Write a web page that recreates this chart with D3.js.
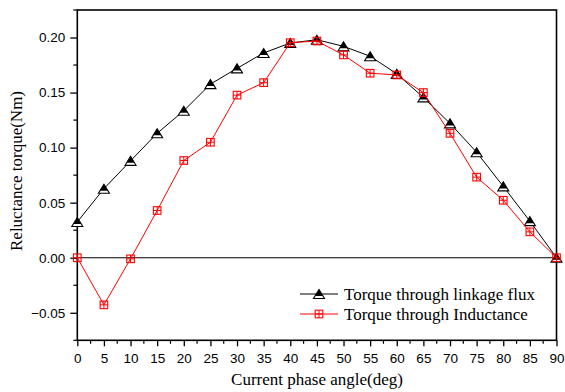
<!DOCTYPE html>
<html>
<head>
<meta charset="utf-8">
<script src="https://cdn.jsdelivr.net/npm/d3@7"></script>
<style>
  html, body { margin: 0; padding: 0; background: #fff; }
  svg { display: block; }
</style>
</head>
<body>
<svg id="chart" width="565" height="392"></svg>
<script>
// ---- Data ----
const angles = [0, 5, 10, 15, 20, 25, 30, 35, 40, 45, 50, 55, 60, 65, 70, 75, 80, 85, 90];
const torqueFlux = [0.0325, 0.0627, 0.088, 0.113, 0.1335, 0.1577, 0.172, 0.186, 0.195, 0.198, 0.192, 0.183, 0.167, 0.1456, 0.122, 0.0958, 0.0648, 0.0332, 0.0];
const torqueInductance = [0.0, -0.0428, -0.001, 0.0429, 0.0883, 0.1049, 0.1477, 0.159, 0.1953, 0.1968, 0.1842, 0.1676, 0.166, 0.150, 0.113, 0.0732, 0.0522, 0.0235, 0.0];
const xTicks = [0, 5, 10, 15, 20, 25, 30, 35, 40, 45, 50, 55, 60, 65, 70, 75, 80, 85, 90];
const yTicks = [-0.05, 0.00, 0.05, 0.10, 0.15, 0.20];
const seriesNames = ["Torque through linkage flux", "Torque through Inductance"];
const xTitle = "Current phase angle(deg)";
const yTitle = "Reluctance torque(Nm)";

// ---- Layout ----
const svg = d3.select("#chart");
const L = 77.3, R = 556.5, T = 10, B = 340.3;
const x = d3.scaleLinear().domain([0, 90]).range([L, R]);
const y = d3.scaleLinear().domain([-0.075, 0.225]).range([B, T]);
const serif = "Liberation Serif, Times New Roman, serif";
const sans = "Liberation Sans, Arial, sans-serif";

// frame
svg.append("rect").attr("x", L).attr("y", T).attr("width", R - L).attr("height", B - T)
  .attr("fill", "none").attr("stroke", "#000").attr("stroke-width", 1.6);

// zero line
svg.append("line").attr("x1", L).attr("x2", R).attr("y1", y(0)).attr("y2", y(0))
  .attr("stroke", "#000").attr("stroke-width", 1.2);

// axes
const xAxis = d3.axisBottom(x).tickValues(xTicks).tickSize(6).tickPadding(7).tickFormat(d3.format("d"));
const gx = svg.append("g").attr("transform", `translate(0,${B})`).call(xAxis);
const yAxis = d3.axisLeft(y).tickValues(yTicks).tickSize(7).tickPadding(5).tickFormat(d3.format(".2f"));
const gy = svg.append("g").attr("transform", `translate(${L},0)`).call(yAxis);
[gx, gy].forEach(g => {
  g.select(".domain").remove();
  g.selectAll(".tick line").attr("stroke", "#000").attr("stroke-width", 1.3);
  g.selectAll(".tick text").attr("fill", "#000").style("font-family", sans).style("font-size", "13.5px");
});
// minor ticks
const xMinor = xTicks.slice(0, -1).map(d => d + 2.5);
svg.append("g").selectAll("line").data(xMinor).join("line")
  .attr("x1", d => x(d)).attr("x2", d => x(d)).attr("y1", B).attr("y2", B + 3.5)
  .attr("stroke", "#000").attr("stroke-width", 1.2);
const yMinor = [-0.075, -0.025, 0.025, 0.075, 0.125, 0.175, 0.225];
svg.append("g").selectAll("line").data(yMinor).join("line")
  .attr("x1", L - 4).attr("x2", L).attr("y1", d => y(d)).attr("y2", d => y(d))
  .attr("stroke", "#000").attr("stroke-width", 1.2);

// titles
svg.append("text").attr("x", 317).attr("y", 385).attr("text-anchor", "middle")
  .style("font-family", serif).style("font-size", "17px").text(xTitle);
svg.append("text").attr("transform", `translate(22,171) rotate(-90)`).attr("text-anchor", "middle")
  .style("font-family", serif).style("font-size", "17px").text(yTitle);

// markers
function triangle(g, cx, cy) {
  const w = 5.5, h = 4.5;
  g.append("path").attr("d", `M${cx},${cy - h} L${cx + w},${cy + h} L${cx - w},${cy + h} Z`)
    .attr("fill", "#fff").attr("stroke", "#000").attr("stroke-width", 1.1);
  g.append("path").attr("d", `M${cx},${cy - h} L${cx + w * 0.72},${cy + h * 0.45} L${cx - w * 0.72},${cy + h * 0.45} Z`)
    .attr("fill", "#000");
}
function square(g, cx, cy) {
  const s = 3.8;
  g.append("rect").attr("x", cx - s).attr("y", cy - s).attr("width", 2 * s).attr("height", 2 * s)
    .attr("fill", "none").attr("stroke", "#ff0000").attr("stroke-width", 1.1);
  g.append("line").attr("x1", cx).attr("x2", cx).attr("y1", cy - s).attr("y2", cy + s)
    .attr("stroke", "#ff0000").attr("stroke-width", 1);
  g.append("line").attr("x1", cx - s).attr("x2", cx + s).attr("y1", cy).attr("y2", cy)
    .attr("stroke", "#ff0000").attr("stroke-width", 1);
}

const line = d3.line().x((d, i) => x(angles[i])).y(d => y(d));
// black series
svg.append("path").datum(torqueFlux).attr("d", line).attr("fill", "none").attr("stroke", "#000").attr("stroke-width", 1);
const gT = svg.append("g");
torqueFlux.forEach((v, i) => triangle(gT, x(angles[i]), y(v)));
// red series
svg.append("path").datum(torqueInductance).attr("d", line).attr("fill", "none").attr("stroke", "#ff0000").attr("stroke-width", 1);
const gS = svg.append("g");
torqueInductance.forEach((v, i) => square(gS, x(angles[i]), y(v)));

// legend
const lg = svg.append("g");
const legY = [294, 314];
lg.append("line").attr("x1", 300).attr("x2", 338).attr("y1", legY[0]).attr("y2", legY[0]).attr("stroke", "#000").attr("stroke-width", 1);
triangle(lg, 319, legY[0]);
lg.append("line").attr("x1", 300).attr("x2", 338).attr("y1", legY[1]).attr("y2", legY[1]).attr("stroke", "#ff0000").attr("stroke-width", 1);
square(lg, 319, legY[1]);
seriesNames.forEach((n, i) => {
  lg.append("text").attr("x", 344).attr("y", legY[i] + 6)
    .style("font-family", serif).style("font-size", "17px").text(n);
});
</script>
</body>
</html>
